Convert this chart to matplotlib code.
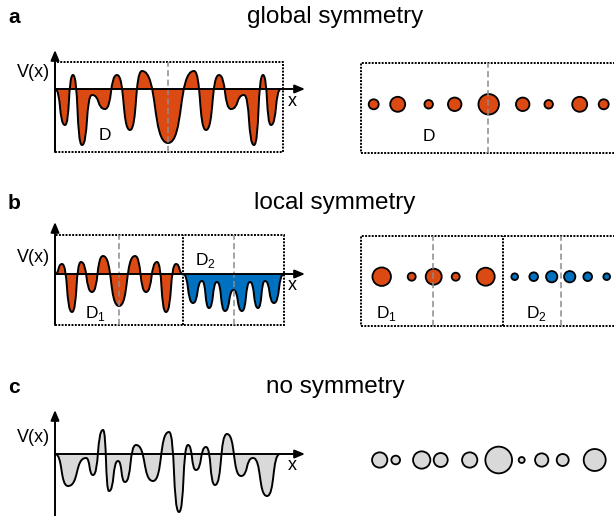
import numpy as np
import matplotlib
matplotlib.use("Agg")
import matplotlib.pyplot as plt
from matplotlib.path import Path
from matplotlib.patches import PathPatch, Rectangle

plt.rcParams["font.family"] = ["Liberation Sans", "DejaVu Sans"]
plt.rcParams["mathtext.fontset"] = "custom"
plt.rcParams["mathtext.rm"] = "Liberation Sans"

W, H = 614, 516
ORANGE = "#DC4A14"
BLUE = "#0070C0"
GREY = "#D9D9D9"

# potential profiles: extrema positions (px from the V axis) and values (px, up = positive)
global_x = [0, 10, 18, 27, 37, 50, 62, 75, 87, 113, 139, 151, 164, 176, 189, 199, 208, 216, 226]
global_v = [0, -36, 14, -56, -6, -20, 14, -41, 18, -54, 18, -41, 14, -20, -6, -56, 14, -36, 0]

local1_x = [0, 7, 17, 26, 37, 48, 64, 80, 91, 102, 111, 121, 128]
local1_v = [0, 10, -38, 12, -18, 18, -32, 18, -18, 12, -38, 10, 0]
local2_x = [128, 138, 147, 154, 162, 170, 178.5, 187, 195, 203, 210, 219, 229]
local2_v = [0, -29, -7, -34, -8, -37, -16, -37, -8, -34, -7, -29, 0]

none_x = [0, 13, 31, 38, 48, 54, 63, 70, 81, 98, 114, 124, 133, 141, 151, 160, 172, 186, 198, 212, 225]
none_v = [0, -32, -4, -21, 24, -37, -7, -28, 9, -27, 22, -58, 9, -16, 7, -31, 20, -22, -4, -42, 0]

# site energies shown as discs (x from box edge, diameter in px)
global_dot_x = [13, 37, 68, 94, 128, 162, 188, 219, 243]
global_dot_d = [10, 15, 8.5, 13.5, 20.5, 13.5, 8.5, 15, 10]

local1_dot_x = [21, 51, 73, 95, 125]
local1_dot_d = [18.5, 8, 16, 8, 18]
local2_dot_x = [154, 173, 191, 209, 227, 246]
local2_dot_d = [6.7, 8.7, 11.3, 11.3, 8.7, 6.7]

none_dot_x = [19, 35, 61, 80, 109, 138, 161, 181, 202, 234]
none_dot_d = [15.3, 8.7, 17.3, 14, 15.3, 26.7, 6, 13.3, 12, 22]

fig = plt.figure(figsize=(W / 100, H / 100), dpi=100)


def pixel_axes(left, top, right, bottom, ox, oy):
    ax = fig.add_axes([left / W, 1 - bottom / H, (right - left) / W, (bottom - top) / H])
    ax.set_xlim(left - ox, right - ox)
    ax.set_ylim(oy - bottom, oy - top)
    ax.axis("off")
    return ax


def bezier_path(xs, vs, k=0.62, closed=False):
    verts = [(xs[0], vs[0])]
    codes = [Path.MOVETO]
    for x0, v0, x1, v1 in zip(xs[:-1], vs[:-1], xs[1:], vs[1:]):
        dx = x1 - x0
        verts += [(x0 + k * dx, v0), (x1 - k * dx, v1), (x1, v1)]
        codes += [Path.CURVE4] * 3
    if closed:
        verts.append((xs[0], 0))
        codes.append(Path.CLOSEPOLY)
    return Path(verts, codes)


def draw_profile(ax, xs, vs, color):
    ax.add_patch(PathPatch(bezier_path(xs, vs, closed=True), fc=color, ec="none", zorder=1))
    ax.add_patch(PathPatch(bezier_path(xs, vs), fc="none", ec="black", lw=1.4, zorder=3))


def draw_axes_arrows(ax, v_low, v_top, x_end=250):
    arrow = dict(arrowstyle="-|>,head_length=0.6,head_width=0.25", color="black",
                 lw=1.4, mutation_scale=10, shrinkA=0, shrinkB=0)
    ax.annotate("", xy=(0, v_top), xytext=(0, v_low), arrowprops=arrow, zorder=4)
    ax.annotate("", xy=(x_end, 0), xytext=(0, 0), arrowprops=arrow, zorder=4)
    ax.text(-5, 12, "V(x)", ha="right", va="baseline", fontsize=13)
    ax.text(237, -16.5, "x", ha="center", va="baseline", fontsize=13)


DOTS = (0, (1, 0.7))


def dotted_box(ax, x0, x1, v0, v1, splits=()):
    ax.add_patch(Rectangle((x0, v0), x1 - x0, v1 - v0, fill=False, ec="black", lw=1.4,
                           linestyle=DOTS, zorder=2))
    for xs in splits:
        ax.plot([xs, xs], [v0, v1], color="black", lw=1.4, linestyle=DOTS, zorder=2)


def dashed_mid(ax, x, v0, v1):
    ax.plot([x, x], [v0, v1], color="#8C8C8C", lw=1.1, dashes=(4, 2.2), zorder=4)


def draw_dots(ax, xs, ds, color):
    sizes = (np.array(ds) * 0.72) ** 2
    ax.scatter(xs, np.zeros(len(xs)), s=sizes, c=color, edgecolors="black", linewidths=1.3, zorder=3)


def heading(letter, title, y):
    fig.text(8 / W, 1 - y / H, letter, fontsize=15, fontweight="bold", ha="left", va="baseline")
    fig.text(335 / W, 1 - y / H, title, fontsize=17.5, ha="center", va="baseline")


# a: global symmetry
heading("a", "global symmetry", 23)
ax = pixel_axes(0, 40, 320, 165, 55, 89)
dotted_box(ax, 0, 228, -63, 27)
dashed_mid(ax, 113, -63, 27)
draw_profile(ax, global_x, global_v, ORANGE)
draw_axes_arrows(ax, -63, 39)
ax.text(50, -51, "D", ha="center", va="baseline", fontsize=12.5)

ax = pixel_axes(330, 40, 614, 165, 360.7, 104.3)
dotted_box(ax, 0, 400, -49, 41)
dashed_mid(ax, 127.6, -49, 41)
draw_dots(ax, global_dot_x, global_dot_d, ORANGE)
ax.text(68.3, -36.4, "D", ha="center", va="baseline", fontsize=12.5)

# b: local symmetry
heading("b", "local symmetry", 209)
ax = pixel_axes(0, 215, 320, 340, 55, 274)
dotted_box(ax, 0, 229, -51, 39, splits=[128.3])
dashed_mid(ax, 64, -51, 39)
dashed_mid(ax, 178.5, -51, 39)
draw_profile(ax, local1_x, local1_v, ORANGE)
draw_profile(ax, local2_x, local2_v, BLUE)
draw_axes_arrows(ax, -51, 52)
ax.text(30, -44, r"D$_\mathregular{1}$", ha="left", va="baseline", fontsize=12.5)
ax.text(140, 9, r"D$_\mathregular{2}$", ha="left", va="baseline", fontsize=12.5)

ax = pixel_axes(330, 215, 614, 340, 360.7, 276.7)
dotted_box(ax, 0, 400, -49.3, 41, splits=[142.6])
dashed_mid(ax, 72.6, -49.3, 41)
dashed_mid(ax, 200, -49.3, 41)
draw_dots(ax, local1_dot_x, local1_dot_d, ORANGE)
draw_dots(ax, local2_dot_x, local2_dot_d, BLUE)
ax.text(15.3, -41.3, r"D$_\mathregular{1}$", ha="left", va="baseline", fontsize=12.5)
ax.text(165.3, -41.3, r"D$_\mathregular{2}$", ha="left", va="baseline", fontsize=12.5)

# c: no symmetry
heading("c", "no symmetry", 393)
ax = pixel_axes(0, 400, 320, 516, 55, 454)
draw_profile(ax, none_x, none_v, GREY)
draw_axes_arrows(ax, -70, 44)

ax = pixel_axes(330, 400, 614, 516, 360.7, 460)
draw_dots(ax, none_dot_x, none_dot_d, GREY)

fig.savefig("out.png", dpi=100)
